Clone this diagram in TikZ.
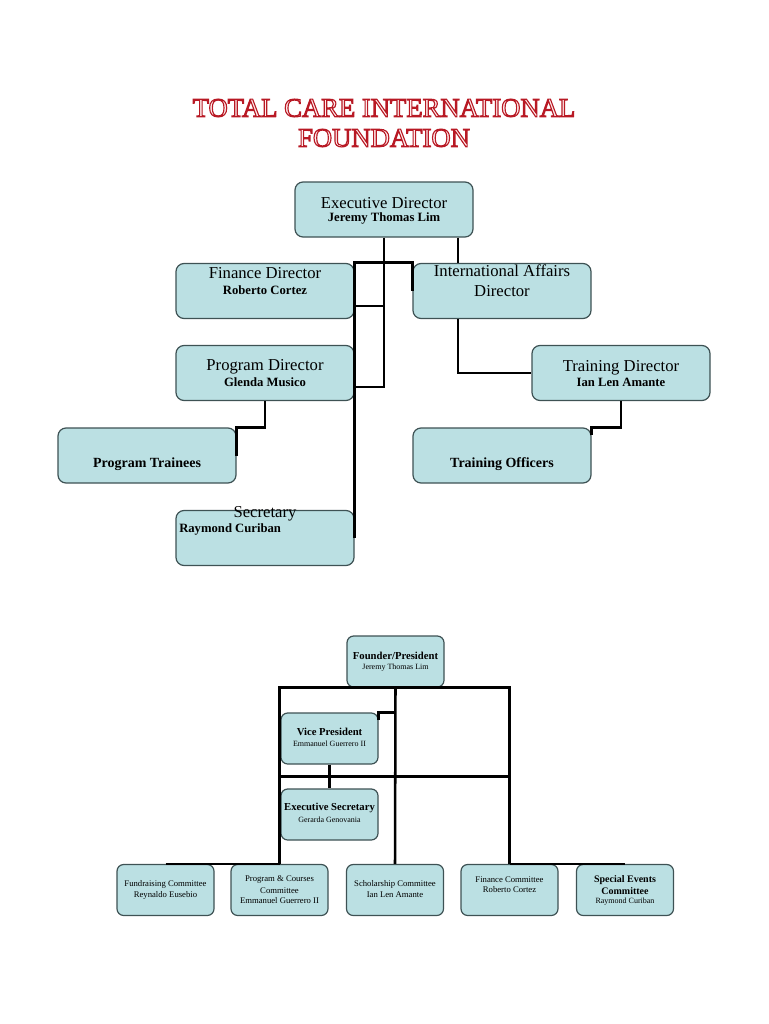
\documentclass[tikz,border=0pt]{standalone}
\usepackage{fontspec}
\setmainfont{Liberation Serif}
\usetikzlibrary{calc}
\definecolor{boxfill}{RGB}{187,224,227}
\definecolor{boxline}{RGB}{62,82,84}
\definecolor{tface}{RGB}{255,236,236}
\newcommand\outlinetext[1]{\special{pdf:literal direct 2 Tr 0.85 w 0.72 0.1 0.14 RG}#1\special{pdf:literal direct 0 Tr}}
\begin{document}
\begin{tikzpicture}[x=0.75pt,y=-0.75pt,
  topbox/.style={draw=boxline,fill=boxfill,line width=0.9pt,rounded corners=6pt,minimum width=133.5pt,minimum height=41.25pt,inner sep=0pt},
  botbox/.style={topbox,minimum width=72.75pt,minimum height=38.25pt,rounded corners=5pt},
  conn/.style={line width=2.2pt},
  bconn/.style={line width=1.9pt},
  ttl/.style={font=\fontsize{20}{22.5}\selectfont,inner sep=0pt,align=center,text=tface},
  ttitle/.style={font=\fontsize{12.5}{14}\selectfont,inner sep=0pt},
  tname/.style={font=\fontsize{9.5}{11}\selectfont\bfseries,inner sep=0pt},
  tbold/.style={font=\fontsize{10.5}{12}\selectfont\bfseries,inner sep=0pt},
  btitle/.style={font=\fontsize{8}{9}\selectfont\bfseries,inner sep=0pt},
  bname/.style={font=\fontsize{6}{7}\selectfont,inner sep=0pt},
  bcom/.style={font=\fontsize{6.5}{7.5}\selectfont,inner sep=0pt},
  bsp/.style={font=\fontsize{7.5}{8.5}\selectfont\bfseries,inner sep=0pt}]
\useasboundingbox (0,0) rectangle (768,1024);

% ---------- title ----------
\node[ttl] (title) at (384,123) {\outlinetext{TOTAL CARE INTERNATIONAL}\\\outlinetext{FOUNDATION}};

% ---------- top chart boxes ----------
\node[topbox] (exec) at (384,209.5) {};
\node[topbox] (fin) at (265,291) {};
\node[topbox] (intl) at (502,291) {};
\node[topbox] (prog) at (265,373) {};
\node[topbox] (train) at (621,373) {};
\node[topbox] (trainees) at (147,455.5) {};
\node[topbox] (officers) at (502,455.5) {};
\node[topbox] (sec) at (265,538) {};

% ---------- top chart connectors ----------
\draw[conn] (exec.south) |- ([yshift=-10.5pt]prog.east);
\draw[conn] ([yshift=-11.25pt]fin.east) -- ([yshift=-11.25pt]fin.east -| exec.south);
\draw[conn] (sec.east) |- (intl.north west) -- (intl.west);
\draw[conn] ([xshift=55.5pt]exec.south) -- ([xshift=55.5pt]exec.south |- intl.north);
\draw[conn] ([xshift=-33pt]intl.south) |- (train.west);
\draw[conn] (train.south) |- (officers.north east) -- ([yshift=-6pt]officers.north east);
\draw[conn] (prog.south) |- (trainees.north east) -- (trainees.east);

% ---------- top chart texts ----------
\node[ttitle] (execT) at (384,203) {Executive Director};
\node[tname] (execN) at (384,218) {Jeremy Thomas Lim};
\node[ttitle] (finT) at (265,273) {Finance Director};
\node[tname] (finN) at (265,290) {Roberto Cortez};
\node[ttitle] (intlT) at (502,271) {International Affairs};
\node[ttitle] (intlT2) at (502,291) {Director};
\node[ttitle] (progT) at (265,367) {Program Director};
\node[tname] (progN) at (265,382) {Glenda Musico};
\node[ttitle] (trainT) at (621,368) {Training Director};
\node[tname] (trainN) at (621,382) {Ian Len Amante};
\node[tbold] (traineesT) at (147,464) {Program Trainees};
\node[tbold] (officersT) at (502,464) {Training Officers};
\node[ttitle] (secT) at (265,514) {Secretary};
\node[tname,anchor=west] (secN) at (179,529) {Raymond Curiban};

% ---------- bottom chart boxes ----------
\node[botbox] (founder) at (395.5,661.5) {};
\node[botbox] (vp) at (329.5,738.5) {};
\node[botbox] (es) at (329.5,814.5) {};
\node[botbox] (fund) at (165.5,890) {};
\node[botbox] (pc) at (279.5,890) {};
\node[botbox] (sch) at (395,890) {};
\node[botbox] (finc) at (509.5,890) {};
\node[botbox] (se) at (625,890) {};

% ---------- bottom chart connectors ----------
\coordinate (mid) at ($(vp.south)!0.5!(es.north)$);
\draw[bconn] (pc.north) -- (pc.north |- founder.south) -- (finc.north |- founder.south) -- (finc.north);
\draw[bconn] (founder.south) -- (sch.north);
\draw[bconn] (sch.north |- vp.north east) -- (vp.north east) -- ([yshift=-6pt]vp.north east);
\draw[bconn] (vp.south) -- (es.north);
\draw[bconn] (pc.north |- mid) -- (finc.north |- mid);
\draw[bconn] (fund.north) -- (pc.north);
\draw[bconn] (finc.north) -- (se.north);

% ---------- bottom chart texts ----------
\node[btitle] (founderT) at (395.5,656) {Founder/President};
\node[bname] (founderN) at (395.5,668) {Jeremy Thomas Lim};
\node[btitle] (vpT) at (329.5,732) {Vice President};
\node[bname] (vpN) at (329.5,744) {Emmanuel Guerrero II};
\node[btitle] (esT) at (329.5,808) {Executive Secretary};
\node[bname] (esN) at (329.5,820) {Gerarda Genovania};
\node[bcom] (fundT) at (165.5,884) {Fundraising Committee};
\node[bcom] (fundN) at (165.5,895) {Reynaldo Eusebio};
\node[bcom] (pcT) at (279.5,880) {Program \& Courses};
\node[bcom] (pcT2) at (279.5,891) {Committee};
\node[bcom] (pcN) at (279.5,901) {Emmanuel Guerrero II};
\node[bcom] (schT) at (395,884) {Scholarship Committee};
\node[bcom] (schN) at (395,895) {Ian Len Amante};
\node[bcom] (fincT) at (509.5,880) {Finance Committee};
\node[bcom] (fincN) at (509.5,890) {Roberto Cortez};
\node[bsp] (seT) at (625,880) {Special Events};
\node[bsp] (seT2) at (625,891) {Committee};
\node[bname] (seN) at (625,902) {Raymond Curiban};
\end{tikzpicture}
\end{document}
